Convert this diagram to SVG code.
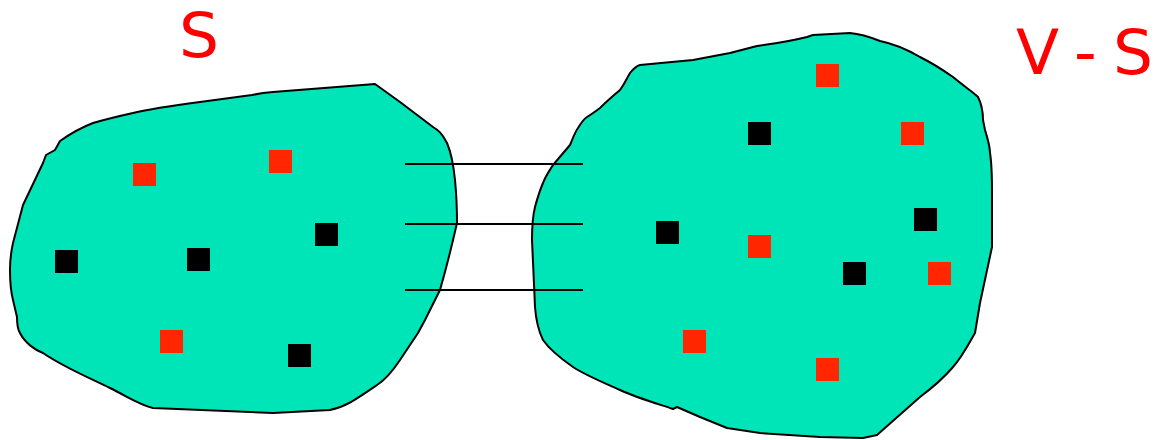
<svg xmlns="http://www.w3.org/2000/svg" width="1155" height="440" viewBox="0 0 1155 440">
<style>
.blob{fill:#00E5B8;stroke:#000;stroke-width:2;stroke-linejoin:round}
.r{fill:#FF2600}
.b{fill:#000}
.lbl{fill:#FF0000;font-family:"DejaVu Sans",sans-serif;font-size:63px}
.conn{stroke:#000;stroke-width:2;fill:none}
</style>
<rect width="1155" height="440" fill="#fff"/>
<g id="setS">
<path class="blob" d="M375,84 L273,92 L263,93 L252,95 L200,102 C170,106 150,109 133,113 C115,117 100,121 93,123 C80,128 70,134 60,141 L55,150 L46,155 L43,163 L23,205 L13,243 C11,252 10,260 10,270 C10,285 11,292 13,300 L17,317 C17,327 18,330 20,333 C25,343 35,350 43,353 C65,368 90,378 110,388 C130,398 140,405 153,408 L273,413 L330,410 C345,407 355,400 377,385 C385,380 392,372 400,360 L418,333 L425,320 L440,290 C448,262 452,245 457,223 C457,205 456,190 455,180 C453,160 450,150 447,143 C442,133 438,130 433,127 L400,102 Z"/>
<rect class="r" x="133" y="163" width="23" height="23"/>
<rect class="r" x="269" y="150" width="23" height="23"/>
<rect class="b" x="315" y="223" width="23" height="23"/>
<rect class="b" x="55" y="250" width="23" height="23"/>
<rect class="b" x="187" y="248" width="23" height="23"/>
<rect class="r" x="160" y="330" width="23" height="23"/>
<rect class="b" x="288" y="344" width="23" height="23"/>
<text class="lbl" x="179" y="57">S</text>
</g>
<g id="setVS">
<path class="blob" d="M640,65 L693,60 L730,53 L757,46 C780,43 795,40 807,37 L813,35 L850,33 C862,34 870,37 880,41 C895,44 908,50 920,57 C932,63 943,70 953,77 C965,87 973,92 978,97 C982,105 983,112 983,120 L985,130 C988,140 990,146 990,153 C992,165 992,180 992,193 L992,247 L980,303 L975,333 C968,345 962,357 953,367 C942,380 932,388 920,397 L877,435 L863,438 L820,437 L760,433 L727,428 L700,417 L677,407 L673,409 C655,403 635,397 620,390 C600,381 585,375 573,367 C560,358 550,350 543,340 C538,330 536,320 535,307 C534,285 533,260 532,240 C532,225 533,215 535,207 C538,196 540,190 543,183 C546,175 550,170 553,165 L570,145 C573,138 575,132 578,128 C581,123 584,119 587,117 C592,114 596,111 600,108 C607,101 614,95 620,90 C625,83 627,78 630,73 C634,68 636,66 640,65 Z"/>
<rect class="r" x="816" y="64" width="23" height="23"/>
<rect class="b" x="748" y="122" width="23" height="23"/>
<rect class="r" x="901" y="122" width="23" height="23"/>
<rect class="b" x="914" y="208" width="23" height="23"/>
<rect class="b" x="656" y="221" width="23" height="23"/>
<rect class="r" x="748" y="235" width="23" height="23"/>
<rect class="b" x="843" y="262" width="23" height="23"/>
<rect class="r" x="928" y="262" width="23" height="23"/>
<rect class="r" x="683" y="330" width="23" height="23"/>
<rect class="r" x="816" y="358" width="23" height="23"/>
<text class="lbl" y="74"><tspan x="1016">V</tspan><tspan x="1074"> </tspan><tspan x="1074">-</tspan><tspan x="1113"> </tspan><tspan x="1113">S</tspan></text>
</g>
<g id="connectors">
<line class="conn" x1="405" y1="164" x2="583" y2="164"/>
<line class="conn" x1="405" y1="224" x2="583" y2="224"/>
<line class="conn" x1="405" y1="290" x2="583" y2="290"/>
</g>
</svg>
